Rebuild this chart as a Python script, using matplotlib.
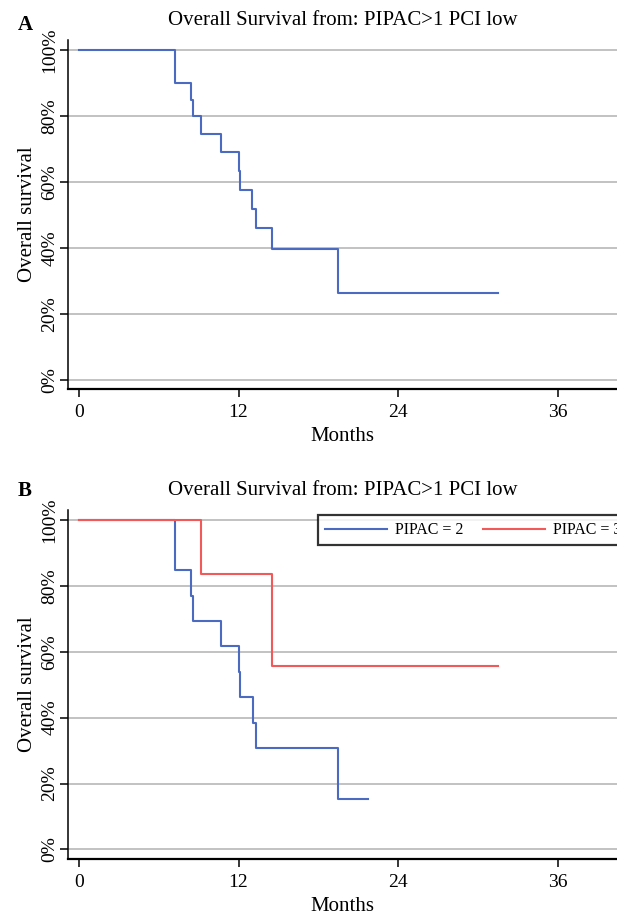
import matplotlib
matplotlib.use("Agg")
import matplotlib.pyplot as plt
from matplotlib.ticker import FuncFormatter

plt.rcParams["font.family"] = ["Liberation Serif", "DejaVu Serif"]

# ── Data ──────────────────────────────────────────────────────────────────────
TITLE = "Overall Survival from: PIPAC>1 PCI low"

# Panel A — all patients
a_time = [0, 7.2, 8.4, 8.55, 9.2, 10.65, 12.0, 12.13, 13.03, 13.28, 14.5, 19.5, 31.5]
a_surv = [100, 90.0, 84.8, 79.9, 74.5, 69.2, 63.4, 57.7, 51.8, 46.2, 39.6, 26.4, 26.4]

# Panel B — by number of PIPAC
b2_time = [0, 7.2, 8.42, 8.54, 10.68, 12.03, 12.13, 13.05, 13.3, 19.5, 21.7]
b2_surv = [100, 84.9, 76.9, 69.3, 61.8, 53.9, 46.2, 38.4, 30.8, 15.2, 15.2]
b3_time = [0, 9.2, 14.53, 31.5]
b3_surv = [100, 83.6, 55.7, 55.7]

x_ticks = [0, 12, 24, 36]
y_ticks = [0, 20, 40, 60, 80, 100]

BLUE = "#4A6BBF"
RED = "#F25A5A"
GRID = "#BDBDBD"

# ── Figure ────────────────────────────────────────────────────────────────────
fig = plt.figure(figsize=(6.17, 9.15), dpi=100)

W, H = 617, 915
def ax_rect(top_px, bottom_px):
    left = 68.3 / W
    return [left, 1 - bottom_px / H, 1.0 - left, (bottom_px - top_px) / H]

ax_a = fig.add_axes(ax_rect(40, 389))
ax_b = fig.add_axes(ax_rect(510, 859))

pct = FuncFormatter(lambda v, _: f"{v:.0f}%")

for ax, ylim in ((ax_a, (-2.7, 103.0)), (ax_b, (-2.9, 103.0))):
    ax.set_xlim(-0.8, 40.45)
    ax.set_ylim(*ylim)
    ax.set_xticks(x_ticks)
    ax.set_yticks(y_ticks)
    ax.yaxis.set_major_formatter(pct)
    for lbl in ax.get_yticklabels():
        lbl.set_rotation(90)
        lbl.set_va("center")
    ax.tick_params(axis="both", labelsize=14, length=6, width=1.1, direction="out")
    ax.tick_params(axis="x", pad=5)
    ax.tick_params(axis="y", pad=1)
    ax.grid(axis="y", color=GRID, lw=1.3)
    ax.set_axisbelow(True)
    for side in ("top", "right"):
        ax.spines[side].set_visible(False)
    ax.spines["left"].set_linewidth(1.1)
    ax.spines["bottom"].set_linewidth(1.6)
    ax.set_xlabel("Months", fontsize=15, labelpad=4)
    ax.set_ylabel("Overall survival", fontsize=15, labelpad=3)
    ax.set_title(TITLE, fontsize=15, pad=11)

ax_a.step(a_time, a_surv, where="post", color=BLUE, lw=1.5)

ax_b.step(b2_time, b2_surv, where="post", color=BLUE, lw=1.5, label="PIPAC = 2")
ax_b.step(b3_time, b3_surv, where="post", color=RED, lw=1.5, label="PIPAC = 3")
leg = ax_b.legend(loc="upper left", bbox_to_anchor=(318 / W, 1 - 515 / H),
                  bbox_transform=fig.transFigure, ncol=2, fontsize=11.5,
                  frameon=True, fancybox=False, borderpad=0.45,
                  handlelength=3.9, handletextpad=0.5, columnspacing=1.2,
                  borderaxespad=0)
leg.get_frame().set_edgecolor("black")
leg.get_frame().set_linewidth(1.6)

fig.text(18 / W, 1 - 25 / H, "A", fontsize=15, fontweight="bold", va="center")
fig.text(18 / W, 1 - 491 / H, "B", fontsize=15, fontweight="bold", va="center")

fig.savefig("out.png", dpi=100)
